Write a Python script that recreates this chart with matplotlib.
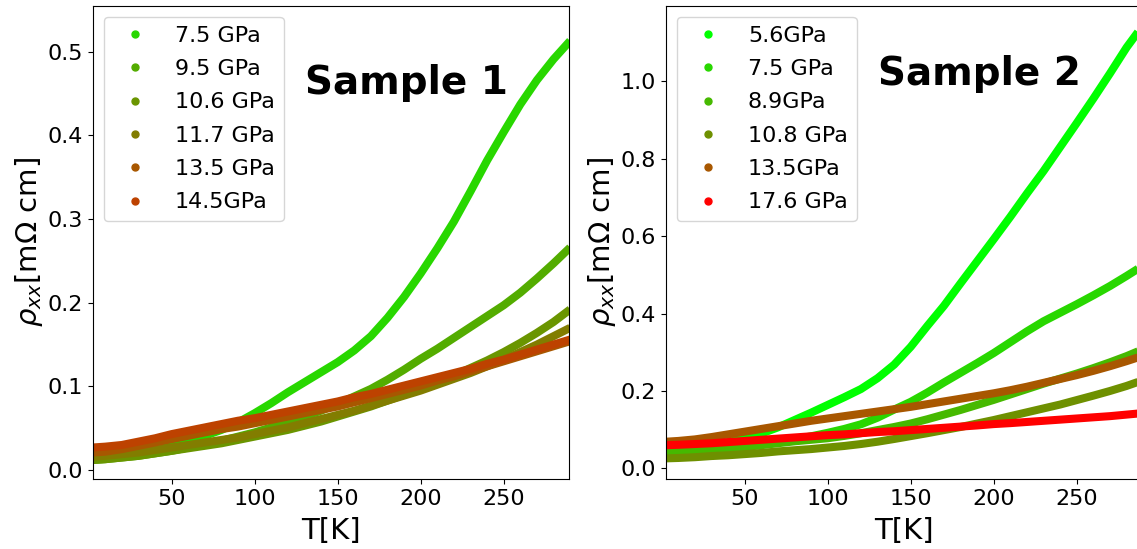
import matplotlib
matplotlib.use('Agg')
import matplotlib.pyplot as plt
from matplotlib.lines import Line2D

# temperature grid (K) shared by all curves
T = [2.5, 10, 20, 30, 40, 50, 60, 70, 80, 90, 100, 110, 120, 130, 140,
     150, 160, 170, 180, 190, 200, 210, 220, 230, 240, 250, 260, 270, 280, 290]

# Sample 1, rho_xx in mOhm cm
s1_labels = ['7.5 GPa', '9.5 GPa', '10.6 GPa', '11.7 GPa', '13.5 GPa', '14.5GPa']
s1_p75 = [.016, .017, .019, .022, .026, .030, .035, .041, .048, .057, .068, .080, .093, .105, .117,
          .129, .143, .160, .182, .207, .235, .265, .297, .333, .370, .404, .437, .466, .491, .513]
s1_p95 = [.012, .013, .015, .017, .020, .023, .027, .031, .035, .040, .045, .051, .057, .064, .071,
          .079, .088, .097, .108, .120, .133, .145, .158, .171, .184, .197, .212, .229, .247, .266]
s1_p106 = [.012, .013, .015, .017, .020, .023, .026, .029, .032, .036, .040, .044, .048, .053, .058,
           .064, .070, .076, .083, .090, .097, .105, .113, .122, .131, .141, .152, .164, .177, .192]
s1_p117 = [.016, .017, .019, .021, .024, .027, .030, .033, .036, .039, .043, .047, .051, .056, .061,
           .066, .071, .077, .083, .089, .095, .102, .109, .116, .124, .132, .141, .150, .160, .170]
s1_p135 = [.021, .022, .025, .029, .033, .037, .041, .045, .049, .052, .056, .060, .064, .068, .072,
           .076, .081, .086, .091, .096, .101, .107, .112, .118, .124, .130, .136, .142, .148, .154]
s1_p145 = [.027, .028, .030, .034, .038, .043, .047, .051, .055, .059, .062, .066, .070, .074, .078,
           .082, .087, .091, .096, .101, .106, .111, .116, .121, .127, .132, .138, .144, .150, .156]
s1_colors = ['#28D700', '#53AC00', '#6A9500', '#827D00', '#A85700', '#BD4200']

# Sample 2
s2_labels = ['5.6GPa', '7.5 GPa', '8.9GPa', '10.8 GPa', '13.5GPa', '17.6 GPa']
s2_p56 = [.045, .047, .052, .060, .068, .078, .090, .106, .125, .144, .164, .184, .205, .233, .268,
          .314, .368, .420, .478, .535, .592, .650, .710, .768, .830, .892, .955, 1.020, 1.087, 1.145]
s2_p75 = [.042, .043, .046, .050, .054, .058, .063, .069, .075, .083, .092, .102, .114, .131, .152,
          .172, .196, .222, .247, .272, .298, .326, .354, .380, .402, .424, .447, .471, .497, .524]
s2_p89 = [.040, .041, .043, .046, .050, .055, .060, .065, .070, .074, .078, .084, .091, .099, .107,
          .116, .127, .139, .151, .164, .177, .191, .205, .219, .232, .245, .259, .274, .290, .308]
s2_p108 = [.026, .027, .029, .032, .034, .037, .040, .044, .047, .050, .054, .058, .063, .069, .076,
           .0835, .091, .099, .107, .116, .125, .135, .145, .155, .165, .1765, .188, .200, .213, .228]
s2_p135 = [.069, .071, .075, .081, .088, .095, .102, .109, .116, .123, .129, .135, .141, .147, .153,
           .159, .166, .173, .180, .187, .194, .202, .211, .221, .231, .241, .252, .264, .277, .291]
s2_p176 = [.060, .061, .063, .065, .068, .071, .074, .077, .080, .083, .086, .088, .091, .094, .096,
           .099, .102, .105, .108, .111, .1145, .117, .120, .123, .126, .129, .132, .135, .139, .143]
s2_colors = ['#00FF00', '#28D700', '#46B900', '#6E9000', '#A85700', '#FF0000']

matplotlib.rcParams.update({'font.size': 16})

fig = plt.figure(figsize=(11.37, 5.49), dpi=100)
ax1 = fig.add_axes([0.0815, 0.127, 0.4192, 0.8627])
ax2 = fig.add_axes([0.5855, 0.127, 0.4192, 0.8627])


def draw(ax, curves, colors, labels, ylim, yticks, title, ty):
    for rho, c in zip(curves, colors):
        ax.plot(T, rho, color=c, lw=5.8, solid_capstyle='butt')
    ax.set_xlim(2.4, 289.5)
    ax.set_ylim(*ylim)
    ax.set_xticks([50, 100, 150, 200, 250])
    ax.set_yticks(yticks)
    ax.set_xlabel('T[K]', fontsize=21, labelpad=6)
    ax.set_ylabel(r'$\rho_{xx}$[m$\Omega$ cm]', fontsize=21, labelpad=2)
    handles = [Line2D([], [], ls='none', marker='o', ms=5, color=c) for c in colors]
    ax.legend(handles, labels, loc='upper left', fontsize=16, labelspacing=0.6)
    ax.text(130, ty, title, fontsize=28, fontweight='bold')


draw(ax1, [s1_p75, s1_p95, s1_p106, s1_p117, s1_p135, s1_p145], s1_colors, s1_labels,
     (-0.011, 0.555), [0.0, 0.1, 0.2, 0.3, 0.4, 0.5], 'Sample 1', 0.45)
draw(ax2, [s2_p56, s2_p75, s2_p89, s2_p108, s2_p135, s2_p176], s2_colors, s2_labels,
     (-0.028, 1.195), [0.0, 0.2, 0.4, 0.6, 0.8, 1.0], 'Sample 2', 0.99)

plt.savefig('out.png', dpi=100)
